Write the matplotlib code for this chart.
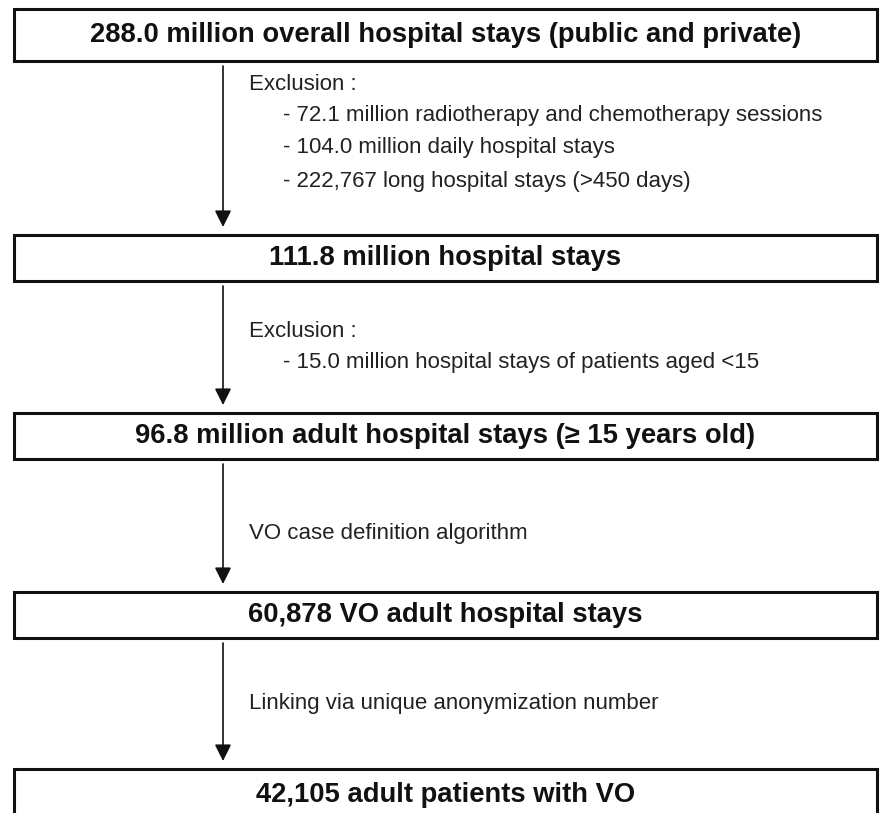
import matplotlib
matplotlib.use("Agg")

import matplotlib.pyplot as plt
from matplotlib.patches import Rectangle

plt.rcParams["font.family"] = ["Liberation Sans", "DejaVu Sans"]

# Flow steps, top to bottom
box_labels = [
    "288.0 million overall hospital stays (public and private)",
    "111.8 million hospital stays",
    "96.8 million adult hospital stays (\u2265 15 years old)",
    "60,878 VO adult hospital stays",
    "42,105 adult patients with VO",
]
step_headers = ["Exclusion :", "Exclusion :", "VO case definition algorithm",
                "Linking via unique anonymization number"]
step_items = [
    ["- 72.1 million radiotherapy and chemotherapy sessions",
     "- 104.0 million daily hospital stays",
     "- 222,767 long hospital stays (>450 days)"],
    ["- 15.0 million hospital stays of patients aged <15"],
    [],
    [],
]

# Layout in pixels (y measured from the top)
W, H = 883, 813
box_left, box_right = 14, 877
box_tops = [9, 235, 413, 592, 769]
box_bottoms = [61, 281, 459, 638, 822]
box_text_y = [35, 258, 436, 615, 795]
arrow_x = 223
header_y = [84, 331, 533, 703]
items_y = [[115, 148, 181], [362], [], []]

fig = plt.figure(figsize=(W / 100, H / 100), dpi=100)
ax = fig.add_axes([0, 0, 1, 1])
ax.set_xlim(0, W)
ax.set_ylim(H, 0)
ax.axis("off")

for i, label in enumerate(box_labels):
    top, bot = box_tops[i], box_bottoms[i]
    ax.add_patch(Rectangle((box_left, top), box_right - box_left, bot - top,
                           facecolor="white", edgecolor="#111111", lw=2.2))
    ax.text((box_left + box_right) / 2, box_text_y[i], label, ha="center", va="center",
            fontsize=19.7, fontweight="bold", color="#111111")

for i in range(len(step_headers)):
    start = box_bottoms[i] + 5
    tip = box_tops[i + 1] - 8
    ax.annotate("", xy=(arrow_x, tip), xytext=(arrow_x, start),
                arrowprops=dict(arrowstyle="-|>,head_length=0.5,head_width=0.25",
                                mutation_scale=20, lw=1.2, color="#111111",
                                shrinkA=0, shrinkB=0))
    ax.text(249, header_y[i], step_headers[i], ha="left", va="center",
            fontsize=16, color="#222222")
    for txt, y in zip(step_items[i], items_y[i]):
        ax.text(283, y, txt, ha="left", va="center", fontsize=16, color="#222222")

fig.savefig("out.png", dpi=100)
